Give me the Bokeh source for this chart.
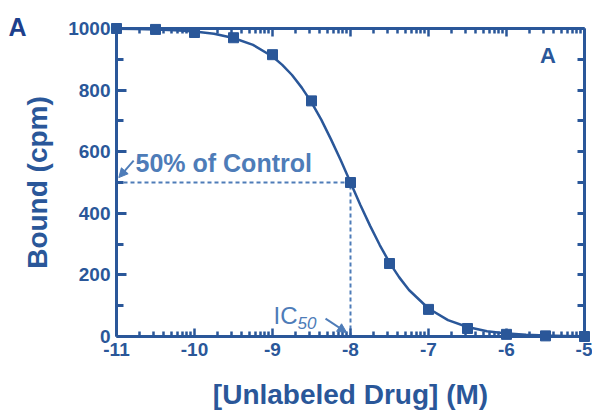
from bokeh.plotting import figure
from bokeh.models import (Range1d, LinearAxis, FixedTicker, Label, Arrow, NormalHead,
                          CustomJSTickFormatter)
from bokeh.core.properties import value
from bokeh.embed import file_html
from bokeh.resources import INLINE

# ---- data ----
log_conc = [-11.0, -10.5, -10.0, -9.5, -9.0, -8.5, -8.0, -7.5, -7.0, -6.5, -6.0, -5.5, -5.0]
bound = [1000, 997, 987, 970, 915, 765, 500, 237, 88, 26, 7, 2, 0]

curve_x = [-11.0, -10.75, -10.5, -10.25, -10.0, -9.75, -9.5, -9.25, -9.0, -8.875, -8.75, -8.625,
           -8.5, -8.375, -8.25, -8.125, -8.0, -7.875, -7.75, -7.625, -7.5, -7.375, -7.25,
           -7.0, -6.75, -6.5, -6.25, -6.0, -5.75, -5.5, -5.25, -5.0]
curve_y = [999, 998, 997, 994, 990, 983, 969, 947, 909, 882, 849, 808,
           760, 704, 640, 572, 500, 428, 360, 297, 240, 192, 151,
           91, 53, 31, 17, 10, 6, 3, 2, 1]

x_major = [-11, -10, -9, -8, -7, -6, -5]
x_labels = ["-11", "-10", "-9", "-8", "-7", "-6", "-5"]
log_minor_offsets = [0.3010, 0.4771, 0.6021, 0.6990, 0.7782, 0.8451, 0.9031, 0.9542]
y_major = [0, 200, 400, 600, 800, 1000]
y_minor = [100, 300, 500, 700, 900]

ic50_log = -8.0
half_bound = 500

DARK = "#2A5799"
NAVY = "#1D3F8C"
LIGHT = "#4E7CB8"
FONT = "Liberation Sans"

XMIN, XMAX, YMIN, YMAX = -11, -5, 0, 1000

minor_positions = [d + off for d in x_major[:-1] for off in log_minor_offsets]

p = figure(width=592, height=414, output_backend="svg", toolbar_location=None,
           x_range=Range1d(XMIN, XMAX), y_range=Range1d(YMIN, YMAX),
           x_axis_location=None, y_axis_location=None,
           min_border_left=116, min_border_right=8, min_border_top=28, min_border_bottom=78)
p.outline_line_color = None
p.xgrid.visible = False
p.ygrid.visible = False
p.background_fill_color = "white"
p.border_fill_color = "white"


def style(ax, labels=True, major_in=9, minor_in=6, tick_w=3):
    ax.axis_line_color = DARK
    ax.axis_line_width = 3
    ax.major_tick_line_color = DARK
    ax.minor_tick_line_color = DARK
    ax.major_tick_line_width = tick_w
    ax.minor_tick_line_width = tick_w
    ax.major_tick_out = 0
    ax.minor_tick_out = 0
    ax.major_tick_in = major_in
    ax.minor_tick_in = minor_in
    ax.major_label_text_font = FONT
    ax.major_label_text_font_style = "bold"
    ax.major_label_text_color = DARK
    ax.major_label_text_font_size = "19px"
    ax.axis_label_text_font = FONT
    ax.axis_label_text_font_style = "bold"
    ax.axis_label_text_color = DARK
    ax.axis_label_text_font_size = "28px"
    if not labels:
        ax.major_label_text_font_size = "0px"
        ax.formatter = CustomJSTickFormatter(code="return ''")


xt = FixedTicker(ticks=x_major, minor_ticks=minor_positions)
yt = FixedTicker(ticks=y_major, minor_ticks=y_minor)
yt_r = FixedTicker(ticks=sorted(y_major + y_minor), minor_ticks=[])

bottom = LinearAxis(ticker=xt, axis_label="[Unlabeled Drug] (M)")
style(bottom, major_in=8, minor_in=5, tick_w=2.5)
bottom.major_label_overrides = {float(v): s for v, s in zip(x_major, x_labels)}
bottom.major_label_standoff = 6
bottom.axis_label_standoff = 20
p.add_layout(bottom, "below")

top = LinearAxis(ticker=xt)
style(top, labels=False, major_in=8, minor_in=5, tick_w=2.5)
p.add_layout(top, "above")

left = LinearAxis(ticker=yt, axis_label="Bound (cpm)")
style(left, major_in=10, minor_in=7, tick_w=3)
left.major_label_standoff = 6
left.axis_label_standoff = 12
p.add_layout(left, "left")

right = LinearAxis(ticker=yt_r)
style(right, labels=False, major_in=7, minor_in=0, tick_w=3)
p.add_layout(right, "right")

# guides
p.line([x_major[0], ic50_log], [half_bound, half_bound], line_color=LIGHT, line_width=2,
       line_dash="4 3")
p.line([ic50_log, ic50_log], [0, half_bound], line_color=LIGHT, line_width=2, line_dash="4 3")

# fitted curve and points
p.line(curve_x, curve_y, line_color=DARK, line_width=2.5)
r = p.scatter(log_conc, bound, marker="square", size=10, fill_color=DARK, line_color=DARK)
r.level = "overlay"

# annotations
p.add_layout(Label(x=-10.756, y=562, text="50% of Control", text_font=FONT,
                   text_font_style="bold", text_font_size="25px", text_color=LIGHT,
                   text_baseline="alphabetic"))
p.add_layout(Arrow(x_start=-10.78, y_start=571, x_end=-10.97, y_end=516,
                   line_color=LIGHT, line_width=2,
                   end=NormalHead(size=9, fill_color=LIGHT, line_color=LIGHT)))
p.add_layout(Label(x=-8.987, y=68, text="IC", text_font=FONT, text_font_size="24px",
                   text_color=LIGHT, text_baseline="alphabetic"))
p.add_layout(Label(x=-8.68, y=45, text="50", text_font=FONT, text_font_size="17px",
                   text_font_style="italic", text_color=LIGHT, text_baseline="alphabetic"))
p.add_layout(Arrow(x_start=-8.32, y_start=58, x_end=-8.05, y_end=13,
                   line_color=LIGHT, line_width=2,
                   end=NormalHead(size=9, fill_color=LIGHT, line_color=LIGHT)))

p.add_layout(Label(x=-5.47, y=912, text="A", text_font=FONT, text_font_style="bold",
                   text_font_size="22px", text_color=DARK, text_align="center",
                   text_baseline="middle"))
corner = p.text(x=[XMIN], y=[YMAX], text=["A"], x_offset=-108, y_offset=-2,
                text_font=value(FONT), text_font_style="bold", text_font_size="25px",
                text_color=NAVY, text_baseline="middle", text_align="left")
corner.level = "overlay"

open("out.html", "w").write(file_html(p, INLINE))
